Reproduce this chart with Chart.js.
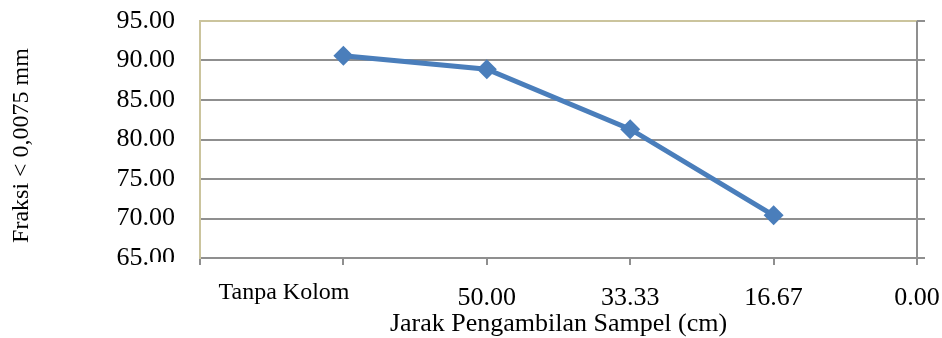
<!DOCTYPE html>
<html>
<head>
<meta charset="utf-8">
<script src="https://cdn.jsdelivr.net/npm/chart.js@4/dist/chart.umd.min.js"></script>
<style>
  body { margin: 0; background: #fff; }
</style>
</head>
<body>
<canvas id="chart" width="942" height="338"></canvas>
<script>
const jarak = ["83.33", "66.67", "50.00", "33.33", "16.67", "0.00"];
const fraksi = [null, 90.6, 88.9, 81.3, 70.4, null];
const yMin = 65;
const yMax = 95;
const yStep = 5;

const serif = "'Liberation Serif', 'Times New Roman', serif";
const grey = "#8f8f8f";
const tan = "#cbc49d";
const blue = "#4a7ebb";

// white box with "Tanpa Kolom", clipped 65.00 label, right border
const extras = {
  id: "extras",
  afterDraw(chart) {
    const c = chart.ctx;
    const area = chart.chartArea;
    const y = chart.scales.y;
    c.save();
    c.fillStyle = "#fff";
    c.fillRect(150, 262, 45, 20);
    c.fillRect(160, 276, 215, 31);
    c.fillStyle = "#000";
    c.font = "24px " + serif;
    c.textAlign = "center";
    c.textBaseline = "middle";
    c.fillText("Tanpa Kolom", 284, 293);

    c.strokeStyle = grey;
    c.lineWidth = 2;
    c.beginPath();
    c.moveTo(area.right, area.top);
    c.lineTo(area.right, area.bottom + 7);
    for (let v = yMin; v <= yMax; v += yStep) {
      const py = Math.round(y.getPixelForValue(v));
      c.moveTo(area.right, py);
      c.lineTo(area.right + 8, py);
    }
    c.stroke();
    c.restore();
  }
};

new Chart(document.getElementById("chart"), {
  type: "line",
  data: {
    labels: jarak,
    datasets: [{
      data: fraksi,
      borderColor: blue,
      backgroundColor: blue,
      borderWidth: 5,
      pointStyle: "rectRot",
      pointRadius: 10,
      pointBorderWidth: 0,
      fill: false,
      tension: 0
    }]
  },
  options: {
    responsive: false,
    animation: false,
    layout: { padding: { left: 0, right: 25, top: 21, bottom: 0 } },
    plugins: {
      legend: { display: false },
      tooltip: { enabled: false }
    },
    scales: {
      x: {
        offset: false,
        afterFit: s => {
          s.height = 80;
          s.paddingLeft = 0;
          s.paddingRight = 0;
        },
        grid: {
          drawOnChartArea: false,
          drawTicks: true,
          tickLength: 7,
          color: grey,
          lineWidth: 2
        },
        border: { color: grey, width: 2 },
        ticks: {
          color: "#000",
          font: { family: serif, size: 26 },
          padding: 18,
          maxRotation: 0,
          autoSkip: false
        },
        title: {
          display: true,
          text: "Jarak Pengambilan Sampel (cm)",
          color: "#000",
          font: { family: serif, size: 26, lineHeight: 1 },
          padding: { top: 0, bottom: 1 }
        }
      },
      y: {
        min: yMin,
        max: yMax,
        afterFit: s => {
          s.width = 200;
          s.paddingTop = 0;
          s.paddingBottom = 0;
        },
        grid: {
          drawTicks: false,
          color: c => c.tick && c.tick.value === yMax ? tan : grey,
          lineWidth: 2
        },
        border: { color: tan, width: 2 },
        ticks: {
          stepSize: yStep,
          color: "#000",
          font: { family: serif, size: 26 },
          padding: 25,
          callback: v => Number(v).toFixed(2)
        },
        title: {
          display: true,
          text: "Fraksi < 0,0075 mm  ",
          color: "#000",
          font: { family: serif, size: 24, lineHeight: 1 },
          padding: { top: 10, bottom: 0 }
        }
      }
    }
  },
  plugins: [extras]
});
</script>
</body>
</html>
